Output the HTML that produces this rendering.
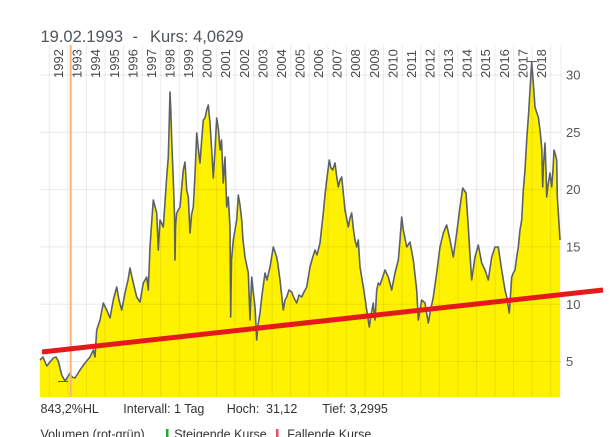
<!DOCTYPE html>
<html><head><meta charset="utf-8"><style>
html,body{margin:0;padding:0;background:#fff;}
svg{display:block;font-family:"Liberation Sans",sans-serif;}
</style></head><body>
<svg width="613" height="437" viewBox="0 0 613 437" xmlns="http://www.w3.org/2000/svg">
<rect width="613" height="437" fill="#fff"/>
<g font-size="16.5" fill="#50555b">
<text x="40.5" y="42">19.02.1993</text>
<text x="132.5" y="42">-</text>
<text x="150" y="42">Kurs: 4,0629</text>
</g>
<g id="fill">
<polygon fill="#fff200" points="40,360 43,357 46.7,366 50,362 53.3,358 56,357 58.3,361 61.7,375 65,381 67,378 70,373 72,377 75,378 80,370 85,363 90,357 93.3,350 95,357 96.7,330 100,320 103.3,303 106.7,310 110,318 113.3,300 116.7,287 119,300 121.7,310 125,293 128,280 130,268 133.3,283 136.7,297 140,302 143.3,283 146.7,277 148.3,290 150,247 151.5,225 153.3,200 156.7,213 158.3,250 160,220 163.3,227 166.7,177 168.3,157 169.3,120 170,92 170.8,110 171.7,140 173.3,180 174.5,215 175,260 175.6,225 176.7,213 180,207 183.3,170 185,162 186.7,190 188.3,197 190,233 191.5,215 193.3,207 195,175 196.7,133 198.5,150 200,163 201.7,140 203.3,120 205,118 206.7,110 208.3,105 210,123 211.7,150 213.3,178 215,150 216.7,118 218.5,130 220,150 221.5,140 223.3,183 225,157 226.7,207 228.3,197 230,227 230.7,317 231.5,260 233.3,240 236.7,220 238.3,195 240,205 241.7,220 243,240 245,257 248.3,273 250,320 251.7,277 253,290 255,307 256.7,340 258,325 260,313 262,295 265,273 267,280 270,267 273.3,247 275,252 276.7,257 278,265 280,280 283.3,310 285,300 286.7,297 289,290 291.7,292 294,298 296.7,303 299,295 301.7,297 304,292 306.7,287 310,267 312.5,258 315,250 317,255 320,243 323.3,213 325,195 326.7,180 329.3,160 331,168 332.7,170 335,163 336.5,175 338.3,187 340,180 341.7,177 343.5,195 345,210 348.3,227 350,218 351.7,213 353.5,230 355,240 356.7,247 358.3,240 360,267 363.3,287 365,298 366.7,310 369.3,327 371,315 373.3,303 374,313 375,320 376.7,290 378.3,283 380,285 381.7,280 385,270 388.3,277 391.7,290 395,273 398.3,260 400,240 401.7,217 403.3,230 406.7,247 410,242 413.3,260 416.7,290 418.3,320 420,310 421.7,300 425,303 428.3,323 430,313 433.3,297 436.7,273 440,247 443.3,233 446.7,225 450,240 453.3,257 456.7,233 460,207 462.7,188 466,193 468.3,227 470,255 471.7,280 475,257 478.3,245 481.7,263 485,270 488.3,280 491.7,257 495,247 498.3,247 501.7,270 505,290 506.7,297 509.3,313 511.7,277 513.3,273 515,270 516.7,257 518.3,247 520,230 521.7,220 523.3,190 525,170 526.7,140 528.5,115 530,90 531.7,62 533.3,83 535,107 536.5,112 538.3,117 540,130 541.7,147 542.7,187 543.5,165 545,143 546,170 546.7,197 548,185 550,173 551.7,187 553,170 554,150 555.5,155 556.7,160 557.3,197 558.5,215 560,240 560,397 40,397"/>
</g>
<g stroke="rgba(0,0,0,0.08)" stroke-width="1">
<line x1="40" y1="75" x2="561" y2="75"/>
<line x1="40" y1="132.3" x2="561" y2="132.3"/>
<line x1="40" y1="189.6" x2="561" y2="189.6"/>
<line x1="40" y1="246.9" x2="561" y2="246.9"/>
<line x1="40" y1="304.2" x2="561" y2="304.2"/>
<line x1="40" y1="361.5" x2="561" y2="361.5"/>
<line x1="49.3" y1="45" x2="49.3" y2="397"/>
<line x1="67.9" y1="45" x2="67.9" y2="397"/>
<line x1="86.4" y1="45" x2="86.4" y2="397"/>
<line x1="105" y1="45" x2="105" y2="397"/>
<line x1="123.6" y1="45" x2="123.6" y2="397"/>
<line x1="142.2" y1="45" x2="142.2" y2="397"/>
<line x1="160.7" y1="45" x2="160.7" y2="397"/>
<line x1="179.3" y1="45" x2="179.3" y2="397"/>
<line x1="197.9" y1="45" x2="197.9" y2="397"/>
<line x1="216.4" y1="45" x2="216.4" y2="397"/>
<line x1="235" y1="45" x2="235" y2="397"/>
<line x1="253.6" y1="45" x2="253.6" y2="397"/>
<line x1="272.1" y1="45" x2="272.1" y2="397"/>
<line x1="290.7" y1="45" x2="290.7" y2="397"/>
<line x1="309.3" y1="45" x2="309.3" y2="397"/>
<line x1="327.9" y1="45" x2="327.9" y2="397"/>
<line x1="346.4" y1="45" x2="346.4" y2="397"/>
<line x1="365" y1="45" x2="365" y2="397"/>
<line x1="383.6" y1="45" x2="383.6" y2="397"/>
<line x1="402.1" y1="45" x2="402.1" y2="397"/>
<line x1="420.7" y1="45" x2="420.7" y2="397"/>
<line x1="439.3" y1="45" x2="439.3" y2="397"/>
<line x1="457.9" y1="45" x2="457.9" y2="397"/>
<line x1="476.4" y1="45" x2="476.4" y2="397"/>
<line x1="495" y1="45" x2="495" y2="397"/>
<line x1="513.6" y1="45" x2="513.6" y2="397"/>
<line x1="532.1" y1="45" x2="532.1" y2="397"/>
<line x1="550.7" y1="45" x2="550.7" y2="397"/>
<line x1="561" y1="45" x2="561" y2="397"/>
</g>
<polyline fill="none" stroke="#5b6169" stroke-width="1.6" stroke-linejoin="round" points="40,360 43,357 46.7,366 50,362 53.3,358 56,357 58.3,361 61.7,375 65,381 67,378 70,373 72,377 75,378 80,370 85,363 90,357 93.3,350 95,357 96.7,330 100,320 103.3,303 106.7,310 110,318 113.3,300 116.7,287 119,300 121.7,310 125,293 128,280 130,268 133.3,283 136.7,297 140,302 143.3,283 146.7,277 148.3,290 150,247 151.5,225 153.3,200 156.7,213 158.3,250 160,220 163.3,227 166.7,177 168.3,157 169.3,120 170,92 170.8,110 171.7,140 173.3,180 174.5,215 175,260 175.6,225 176.7,213 180,207 183.3,170 185,162 186.7,190 188.3,197 190,233 191.5,215 193.3,207 195,175 196.7,133 198.5,150 200,163 201.7,140 203.3,120 205,118 206.7,110 208.3,105 210,123 211.7,150 213.3,178 215,150 216.7,118 218.5,130 220,150 221.5,140 223.3,183 225,157 226.7,207 228.3,197 230,227 230.7,317 231.5,260 233.3,240 236.7,220 238.3,195 240,205 241.7,220 243,240 245,257 248.3,273 250,320 251.7,277 253,290 255,307 256.7,340 258,325 260,313 262,295 265,273 267,280 270,267 273.3,247 275,252 276.7,257 278,265 280,280 283.3,310 285,300 286.7,297 289,290 291.7,292 294,298 296.7,303 299,295 301.7,297 304,292 306.7,287 310,267 312.5,258 315,250 317,255 320,243 323.3,213 325,195 326.7,180 329.3,160 331,168 332.7,170 335,163 336.5,175 338.3,187 340,180 341.7,177 343.5,195 345,210 348.3,227 350,218 351.7,213 353.5,230 355,240 356.7,247 358.3,240 360,267 363.3,287 365,298 366.7,310 369.3,327 371,315 373.3,303 374,313 375,320 376.7,290 378.3,283 380,285 381.7,280 385,270 388.3,277 391.7,290 395,273 398.3,260 400,240 401.7,217 403.3,230 406.7,247 410,242 413.3,260 416.7,290 418.3,320 420,310 421.7,300 425,303 428.3,323 430,313 433.3,297 436.7,273 440,247 443.3,233 446.7,225 450,240 453.3,257 456.7,233 460,207 462.7,188 466,193 468.3,227 470,255 471.7,280 475,257 478.3,245 481.7,263 485,270 488.3,280 491.7,257 495,247 498.3,247 501.7,270 505,290 506.7,297 509.3,313 511.7,277 513.3,273 515,270 516.7,257 518.3,247 520,230 521.7,220 523.3,190 525,170 526.7,140 528.5,115 530,90 531.7,62 533.3,83 535,107 536.5,112 538.3,117 540,130 541.7,147 542.7,187 543.5,165 545,143 546,170 546.7,197 548,185 550,173 551.7,187 553,170 554,150 555.5,155 556.7,160 557.3,197 558.5,215 560,240"/>
<line x1="527" y1="61.5" x2="537" y2="61.5" stroke="#5b6169" stroke-width="1"/>
<line x1="58" y1="381.5" x2="68" y2="381.5" stroke="#5b6169" stroke-width="1"/>
<line x1="70.7" y1="45" x2="70.7" y2="397" stroke="#f7b676" stroke-width="2"/>
<line x1="42" y1="352" x2="603" y2="290" stroke="#e5191a" stroke-width="5"/>
<g font-size="13" fill="#4a4a4a">
<text x="63.1" y="78" transform="rotate(-90 63.1 78)">1992</text>
<text x="81.7" y="78" transform="rotate(-90 81.7 78)">1993</text>
<text x="100.2" y="78" transform="rotate(-90 100.2 78)">1994</text>
<text x="118.8" y="78" transform="rotate(-90 118.8 78)">1995</text>
<text x="137.4" y="78" transform="rotate(-90 137.4 78)">1996</text>
<text x="156" y="78" transform="rotate(-90 156 78)">1997</text>
<text x="174.5" y="78" transform="rotate(-90 174.5 78)">1998</text>
<text x="193.1" y="78" transform="rotate(-90 193.1 78)">1999</text>
<text x="211.7" y="78" transform="rotate(-90 211.7 78)">2000</text>
<text x="230.2" y="78" transform="rotate(-90 230.2 78)">2001</text>
<text x="248.8" y="78" transform="rotate(-90 248.8 78)">2002</text>
<text x="267.4" y="78" transform="rotate(-90 267.4 78)">2003</text>
<text x="285.9" y="78" transform="rotate(-90 285.9 78)">2004</text>
<text x="304.5" y="78" transform="rotate(-90 304.5 78)">2005</text>
<text x="323.1" y="78" transform="rotate(-90 323.1 78)">2006</text>
<text x="341.7" y="78" transform="rotate(-90 341.7 78)">2007</text>
<text x="360.2" y="78" transform="rotate(-90 360.2 78)">2008</text>
<text x="378.8" y="78" transform="rotate(-90 378.8 78)">2009</text>
<text x="397.4" y="78" transform="rotate(-90 397.4 78)">2010</text>
<text x="415.9" y="78" transform="rotate(-90 415.9 78)">2011</text>
<text x="434.5" y="78" transform="rotate(-90 434.5 78)">2012</text>
<text x="453.1" y="78" transform="rotate(-90 453.1 78)">2013</text>
<text x="471.7" y="78" transform="rotate(-90 471.7 78)">2014</text>
<text x="490.2" y="78" transform="rotate(-90 490.2 78)">2015</text>
<text x="508.8" y="78" transform="rotate(-90 508.8 78)">2016</text>
<text x="527.4" y="78" transform="rotate(-90 527.4 78)">2017</text>
<text x="545.9" y="78" transform="rotate(-90 545.9 78)">2018</text>
</g>
<g font-size="13" fill="#555">
<text x="566" y="79.5">30</text>
<text x="566" y="137">25</text>
<text x="566" y="194.2">20</text>
<text x="566" y="251.5">15</text>
<text x="566" y="308.8">10</text>
<text x="566" y="366">5</text>
</g>
<g font-size="12.5" fill="#333">
<text x="40.5" y="413">843,2%HL</text>
<text x="123.3" y="413">Intervall: 1 Tag</text>
<text x="226.7" y="413">Hoch:</text>
<text x="266" y="413">31,12</text>
<text x="322.3" y="413">Tief: 3,2995</text>
<text x="40.5" y="438.5">Volumen (rot-grün)</text>
<text x="174.3" y="438.5">Steigende Kurse</text>
<text x="287.3" y="438.5">Fallende Kurse</text>
</g>
<rect x="166" y="429" width="2.5" height="10" fill="#22aa33"/>
<rect x="276" y="429" width="2.5" height="10" fill="#e0506a"/>
</svg>
</body></html>
